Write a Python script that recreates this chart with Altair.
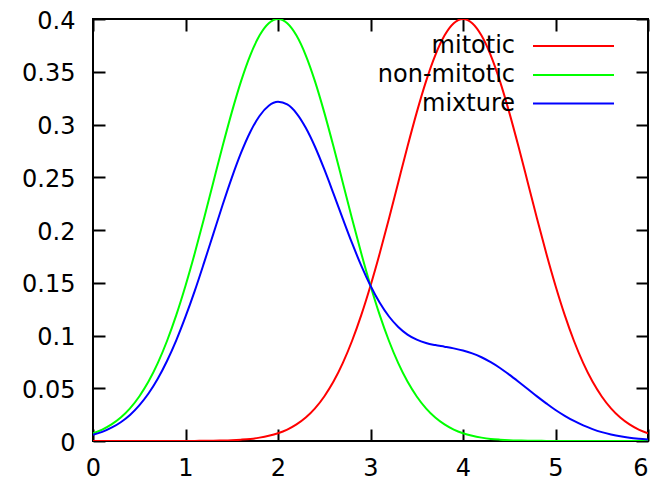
import altair as alt
import pandas as pd

x_vals = [round(i * 0.1, 1) for i in range(61)]

mitotic = [0.0000, 0.0000, 0.0000, 0.0000, 0.0000, 0.0000, 0.0000, 0.0000, 0.0000, 0.0000,
           0.0000, 0.0001, 0.0002, 0.0003, 0.0005, 0.0008, 0.0013, 0.0020, 0.0032, 0.0049,
           0.0073, 0.0108, 0.0157, 0.0222, 0.0309, 0.0422, 0.0563, 0.0738, 0.0948, 0.1193,
           0.1472, 0.1779, 0.2109, 0.2451, 0.2791, 0.3115, 0.3409, 0.3656, 0.3843, 0.3960,
           0.4000, 0.3960, 0.3843, 0.3656, 0.3409, 0.3115, 0.2791, 0.2451, 0.2109, 0.1779,
           0.1472, 0.1193, 0.0948, 0.0738, 0.0563, 0.0422, 0.0309, 0.0222, 0.0157, 0.0108,
           0.0073]

non_mitotic = [0.0073, 0.0108, 0.0157, 0.0222, 0.0309, 0.0422, 0.0563, 0.0738, 0.0948, 0.1193,
               0.1472, 0.1779, 0.2109, 0.2451, 0.2791, 0.3115, 0.3409, 0.3656, 0.3843, 0.3960,
               0.4000, 0.3960, 0.3843, 0.3656, 0.3409, 0.3115, 0.2791, 0.2451, 0.2109, 0.1779,
               0.1472, 0.1193, 0.0948, 0.0738, 0.0563, 0.0422, 0.0309, 0.0222, 0.0157, 0.0108,
               0.0073, 0.0049, 0.0032, 0.0020, 0.0013, 0.0008, 0.0005, 0.0003, 0.0002, 0.0001,
               0.0000, 0.0000, 0.0000, 0.0000, 0.0000, 0.0000, 0.0000, 0.0000, 0.0000, 0.0000,
               0.0000]

mixture = [0.0058, 0.0086, 0.0126, 0.0178, 0.0247, 0.0338, 0.0450, 0.0590, 0.0758, 0.0954,
           0.1178, 0.1423, 0.1688, 0.1961, 0.2234, 0.2494, 0.2730, 0.2929, 0.3081, 0.3178,
           0.3215, 0.3190, 0.3106, 0.2969, 0.2789, 0.2576, 0.2345, 0.2108, 0.1877, 0.1662,
           0.1472, 0.1310, 0.1180, 0.1081, 0.1009, 0.0961, 0.0929, 0.0909, 0.0894, 0.0878,
           0.0858, 0.0831, 0.0794, 0.0747, 0.0692, 0.0629, 0.0562, 0.0493, 0.0423, 0.0357,
           0.0294, 0.0239, 0.0190, 0.0148, 0.0113, 0.0084, 0.0062, 0.0044, 0.0031, 0.0022,
           0.0015]

series_names = ["mitotic", "non-mitotic", "mixture"]
series_colors = ["#ff0000", "#00ff00", "#0000ff"]
x_ticks = [0, 1, 2, 3, 4, 5, 6]
y_ticks = [0, 0.05, 0.1, 0.15, 0.2, 0.25, 0.3, 0.35, 0.4]

rows = []
for name, vals in zip(series_names, [mitotic, non_mitotic, mixture]):
    for xv, yv in zip(x_vals, vals):
        rows.append({"x": xv, "y": yv, "series": name})
df = pd.DataFrame(rows)

FONT = "DejaVu Sans"
FS = 24

xscale = alt.Scale(domain=[0, 6], nice=False, zero=False)
yscale = alt.Scale(domain=[0, 0.4], nice=False, zero=False)
cscale = alt.Scale(domain=series_names, range=series_colors)

base_axis = dict(domain=False, grid=False, ticks=True, tickSize=12, tickWidth=2,
                 tickColor="black", offset=-12, labelFont=FONT, labelFontSize=FS,
                 labelColor="black", title=None, labelFlush=False, labelOverlap=False)

lines = alt.Chart(df).mark_line(strokeWidth=2, interpolate="monotone", clip=True).encode(
    x=alt.X("x:Q", scale=xscale,
            axis=alt.Axis(orient="bottom", values=x_ticks, labelPadding=15,
                          labelAlign=alt.ExprRef(expr="datum.value >= 6 ? 'right' : 'center'"),
                          **base_axis)),
    y=alt.Y("y:Q", scale=yscale,
            axis=alt.Axis(orient="left", values=y_ticks, labelPadding=18, format="~g",
                          labelOffset=2, **base_axis)),
    color=alt.Color("series:N", scale=cscale, legend=None),
    detail="series:N",
)

mirror = alt.Chart(df).mark_line(opacity=0).encode(
    x=alt.X("x:Q", scale=xscale,
            axis=alt.Axis(orient="top", values=x_ticks, labels=False, **base_axis)),
    y=alt.Y("y:Q", scale=yscale,
            axis=alt.Axis(orient="right", values=y_ticks, labels=False, **base_axis)),
    detail="series:N",
)

legend_layers = []
leg_y = [27, 56, 84.5]
for name, col, yy in zip(series_names, series_colors, leg_y):
    ldf = pd.DataFrame({"series": [name]})
    t = alt.Chart(ldf).mark_text(align="right", baseline="middle", font=FONT,
                                 fontSize=FS, color="black").encode(
        x=alt.value(422), y=alt.value(yy), text="series:N")
    r = alt.Chart(ldf).mark_rule(strokeWidth=2, color=col).encode(
        x=alt.value(440), x2=alt.value(521), y=alt.value(yy))
    legend_layers += [t, r]

chart = alt.layer(lines, mirror, *legend_layers).resolve_axis(
    x="independent", y="independent"
).properties(
    width=555, height=422,
    autosize=alt.AutoSizeParams(type="none"),
    padding={"left": 85, "top": 11, "right": 2, "bottom": 45},
    background="white",
).configure_view(stroke="black", strokeWidth=2)

chart.save("out.html", embed_options={"renderer": "svg", "actions": False})
